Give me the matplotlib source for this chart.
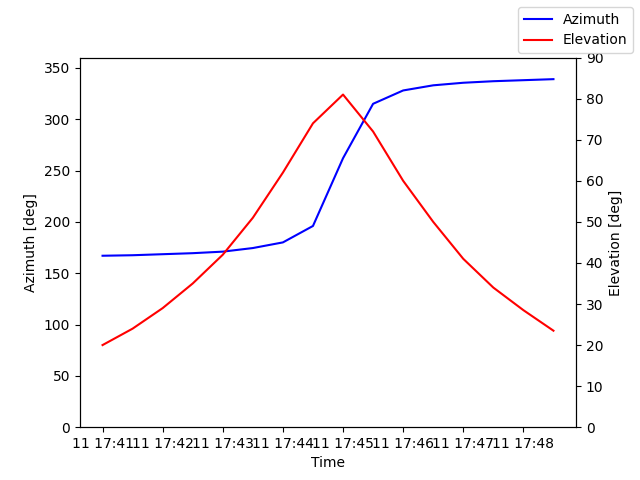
import matplotlib
matplotlib.use("Agg")
import matplotlib.pyplot as plt
import matplotlib.dates as mdates
import pandas as pd

times = pd.date_range("2024-01-11 17:41:00", periods=16, freq="30s")
azimuth = [167, 167.5, 168.5, 169.5, 171, 174.5, 180, 196, 262, 315, 328, 333, 335.5, 337, 338, 339]
elevation = [20, 24, 29, 35, 42, 51, 62, 74, 81, 72, 60, 50, 41, 34, 28.5, 23.5]

fig, ax = plt.subplots(figsize=(6.4, 4.8), dpi=100)
ax.plot(times, azimuth, color="blue", label="Azimuth")
ax.set_ylim(0, 360)
ax.set_ylabel("Azimuth [deg]")
ax.set_xlabel("Time")
ax2 = ax.twinx()
ax2.plot(times, elevation, color="red", label="Elevation")
ax2.set_ylim(0, 90)
ax2.set_ylabel("Elevation [deg]")
ax.xaxis.set_major_locator(mdates.MinuteLocator())
ax.xaxis.set_major_formatter(mdates.DateFormatter("%d %H:%M"))
fig.legend()
fig.savefig("out.png")
